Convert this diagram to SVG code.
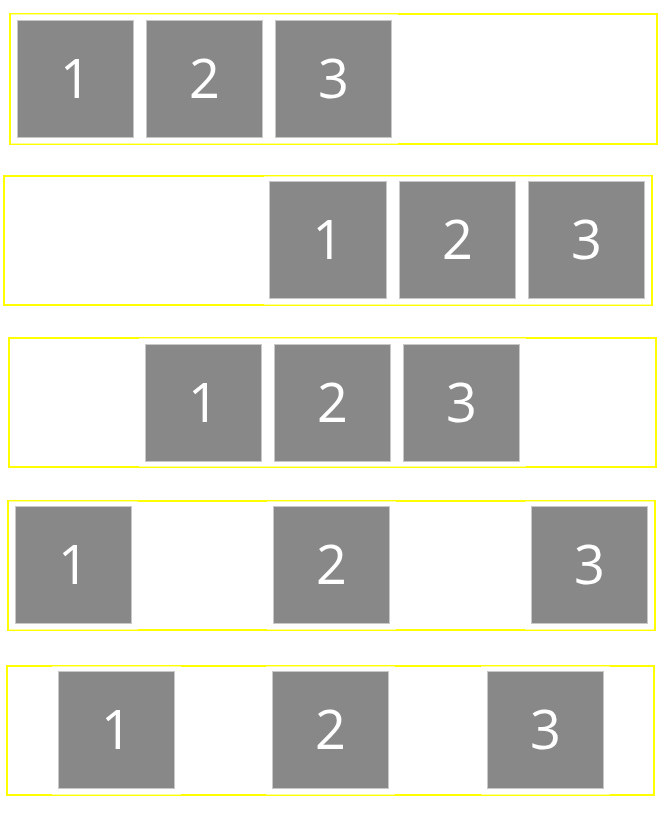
<svg xmlns="http://www.w3.org/2000/svg" width="669" height="815" viewBox="0 0 669 815">
<style>
.frame{fill:none;stroke:#ffff00;stroke-width:2}
.margin{fill:#ffffff;fill-opacity:0.6}
.box{fill:#888888;stroke:#c8c8c8;stroke-width:1}
.num{fill:#ffffff;font-family:"Open Sans","Noto Sans","DejaVu Sans",sans-serif;font-size:54px;text-anchor:middle}
</style>
<rect width="669" height="815" fill="#ffffff"/>
<g id="row1">
<rect class="frame" x="10" y="14" width="647" height="130"/>
<g id="row1-item1"><rect class="margin" x="11" y="14" width="129" height="130"/><rect class="box" x="17.5" y="20.5" width="116" height="117"/><text class="num" x="75.5" y="98">1</text></g>
<g id="row1-item2"><rect class="margin" x="140" y="14" width="129" height="130"/><rect class="box" x="146.5" y="20.5" width="116" height="117"/><text class="num" x="204.5" y="98">2</text></g>
<g id="row1-item3"><rect class="margin" x="269" y="14" width="129" height="130"/><rect class="box" x="275.5" y="20.5" width="116" height="117"/><text class="num" x="333.5" y="98">3</text></g>
</g>
<g id="row2">
<rect class="frame" x="4" y="176" width="648" height="129"/>
<g id="row2-item1"><rect class="margin" x="264" y="176" width="129" height="129"/><rect class="box" x="269.5" y="181.5" width="117" height="117"/><text class="num" x="328" y="259">1</text></g>
<g id="row2-item2"><rect class="margin" x="393" y="176" width="129" height="129"/><rect class="box" x="399.5" y="181.5" width="116" height="117"/><text class="num" x="457.5" y="259">2</text></g>
<g id="row2-item3"><rect class="margin" x="522" y="176" width="129" height="129"/><rect class="box" x="528.5" y="181.5" width="116" height="117"/><text class="num" x="586.5" y="259">3</text></g>
</g>
<g id="row3">
<rect class="frame" x="9" y="338" width="647" height="129"/>
<g id="row3-item1"><rect class="margin" x="139" y="338" width="129" height="129"/><rect class="box" x="145.5" y="344.5" width="116" height="117"/><text class="num" x="203.5" y="422">1</text></g>
<g id="row3-item2"><rect class="margin" x="268" y="338" width="129" height="129"/><rect class="box" x="274.5" y="344.5" width="116" height="117"/><text class="num" x="332.5" y="422">2</text></g>
<g id="row3-item3"><rect class="margin" x="397" y="338" width="129" height="129"/><rect class="box" x="403.5" y="344.5" width="116" height="117"/><text class="num" x="461.5" y="422">3</text></g>
</g>
<g id="row4">
<rect class="frame" x="8" y="501" width="647" height="129"/>
<g id="row4-item1"><rect class="margin" x="9" y="501" width="129" height="129"/><rect class="box" x="15.5" y="506.5" width="116" height="117"/><text class="num" x="73.5" y="584">1</text></g>
<g id="row4-item2"><rect class="margin" x="267" y="501" width="129" height="129"/><rect class="box" x="273.5" y="506.5" width="116" height="117"/><text class="num" x="331.5" y="584">2</text></g>
<g id="row4-item3"><rect class="margin" x="525" y="501" width="129" height="129"/><rect class="box" x="531.5" y="506.5" width="116" height="117"/><text class="num" x="589.5" y="584">3</text></g>
</g>
<g id="row5">
<rect class="frame" x="7" y="666" width="647" height="129"/>
<g id="row5-item1"><rect class="margin" x="52" y="666" width="129" height="129"/><rect class="box" x="58.5" y="671.5" width="116" height="117"/><text class="num" x="116.5" y="749">1</text></g>
<g id="row5-item2"><rect class="margin" x="266" y="666" width="129" height="129"/><rect class="box" x="272.5" y="671.5" width="116" height="117"/><text class="num" x="330.5" y="749">2</text></g>
<g id="row5-item3"><rect class="margin" x="481" y="666" width="129" height="129"/><rect class="box" x="487.5" y="671.5" width="116" height="117"/><text class="num" x="545.5" y="749">3</text></g>
</g>
<g id="connectors"/>
</svg>
